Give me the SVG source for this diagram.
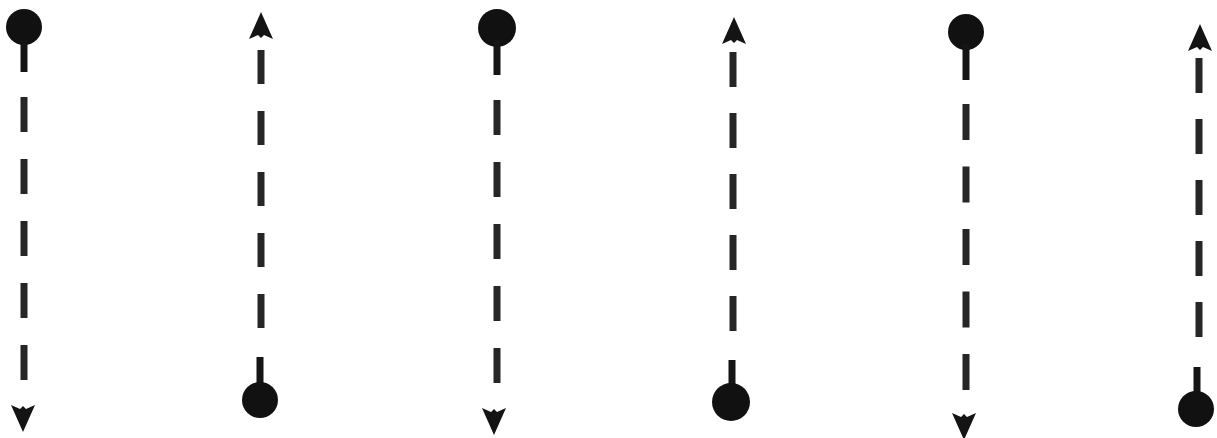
<svg xmlns="http://www.w3.org/2000/svg" xmlns:xlink="http://www.w3.org/1999/xlink" width="1217" height="438" viewBox="0 0 1217 438">
  <style>
    .dash { stroke: #262626; stroke-width: 7; fill: none; }
    .stem { stroke: #151515; stroke-width: 7; fill: none; }
    .dot { fill: #111111; }
    .head { fill: #141414; }
  </style>
  <defs>
    <path id="head-down" d="M -12 0 L -3 4 L 0 1 L 3 4 L 12 0 L 0 27 Z"/>
    <path id="head-up" d="M -12 0 L -3 -4 L 0 -1 L 3 -4 L 12 0 L 0 -27 Z"/>
  </defs>
  <rect width="1217" height="438" fill="#ffffff"/>
  <g id="connectors">
    <g id="arrow-1">
      <circle class="dot" cx="24" cy="27" r="18"/>
      <line class="stem" x1="24" y1="40" x2="24" y2="72"/>
      <line class="dash" x1="24" y1="97" x2="24" y2="380" stroke-dasharray="35 27"/>
      <use class="head" href="#head-down" xlink:href="#head-down" x="23" y="405"/>
    </g>
    <g id="arrow-2">
      <use class="head" href="#head-up" xlink:href="#head-up" x="261" y="39"/>
      <line class="dash" x1="261" y1="50" x2="261" y2="328" stroke-dasharray="34 27"/>
      <line class="stem" x1="260" y1="357" x2="260" y2="390"/>
      <circle class="dot" cx="260" cy="400" r="18"/>
    </g>
    <g id="arrow-3">
      <circle class="dot" cx="497" cy="28" r="19"/>
      <line class="stem" x1="497" y1="40" x2="497" y2="75"/>
      <line class="dash" x1="497" y1="100" x2="497" y2="383" stroke-dasharray="35 27"/>
      <use class="head" href="#head-down" xlink:href="#head-down" x="494" y="408"/>
    </g>
    <g id="arrow-4">
      <use class="head" href="#head-up" xlink:href="#head-up" x="734" y="44"/>
      <line class="dash" x1="733" y1="52" x2="733" y2="331" stroke-dasharray="35 26"/>
      <line class="stem" x1="732" y1="360" x2="732" y2="392"/>
      <circle class="dot" cx="731" cy="402" r="19"/>
    </g>
    <g id="arrow-5">
      <circle class="dot" cx="966" cy="32" r="18"/>
      <line class="stem" x1="966" y1="44" x2="966" y2="80"/>
      <line class="dash" x1="966" y1="104" x2="966" y2="390" stroke-dasharray="36 26.5"/>
      <use class="head" href="#head-down" xlink:href="#head-down" x="964" y="413"/>
    </g>
    <g id="arrow-6">
      <use class="head" href="#head-up" xlink:href="#head-up" x="1200" y="51"/>
      <line class="dash" x1="1199" y1="58" x2="1199" y2="337" stroke-dasharray="35 26"/>
      <line class="stem" x1="1197" y1="367" x2="1197" y2="398"/>
      <circle class="dot" cx="1196" cy="409" r="18"/>
    </g>
  </g>
</svg>
